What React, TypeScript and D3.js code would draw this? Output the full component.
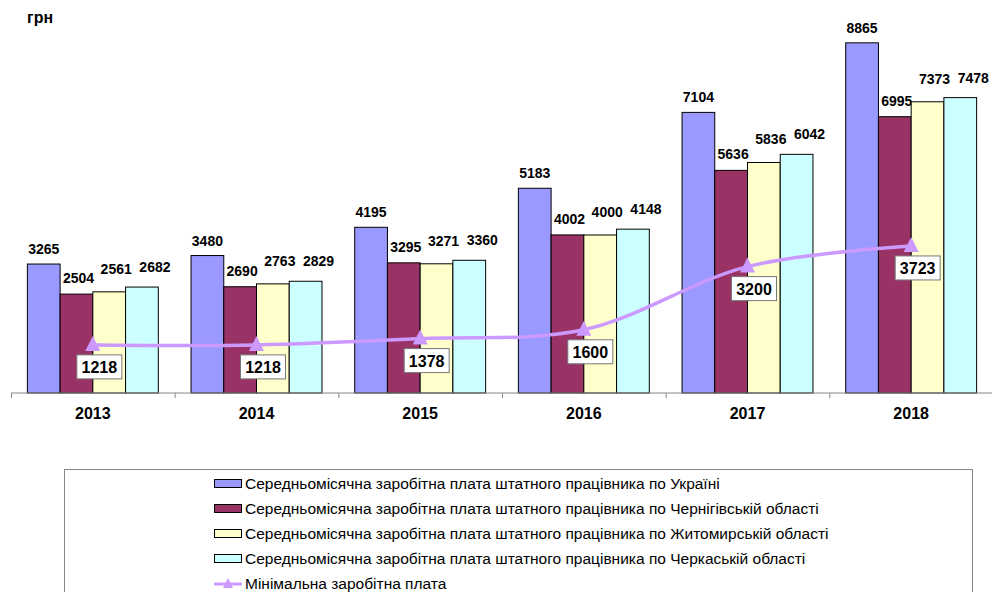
import React from 'react';
import * as d3 from 'd3';

const years = ['2013', '2014', '2015', '2016', '2017', '2018'];
const ukraine = [3265, 3480, 4195, 5183, 7104, 8865];
const chernihiv = [2504, 2690, 3295, 4002, 5636, 6995];
const zhytomyr = [2561, 2763, 3271, 4000, 5836, 7373];
const cherkasy = [2682, 2829, 3360, 4148, 6042, 7478];
const minWage = [1218, 1218, 1378, 1600, 3200, 3723];

const seriesNames = [
  'Середньомісячна заробітна плата штатного працівника по Україні',
  'Середньомісячна заробітна плата штатного працівника по Чернігівській області',
  'Середньомісячна заробітна плата штатного працівника по Житомирській області',
  'Середньомісячна заробітна плата штатного працівника по Черкаській області',
];
const lineName = 'Мінімальна заробітна плата';

const W = 992;
const H = 592;
const font = '"Liberation Sans", Arial, sans-serif';

const series = [
  { key: 'ua', values: ukraine, color: '#9999ff', dx: 0, dy: -10 },
  { key: 'ch', values: chernihiv, color: '#993366', dx: 2, dy: -11 },
  { key: 'zh', values: zhytomyr, color: '#ffffcc', dx: 7, dy: -18 },
  { key: 'ck', values: cherkasy, color: '#ccffff', dx: 13, dy: -15 },
];
const lineColor = '#cc99ff';

const App: React.FC = () => {
  const x = d3.scaleBand<string>().domain(years).range([11, 993]);
  const inner = d3
    .scaleBand<string>()
    .domain(series.map(s => s.key))
    .range([0, x.bandwidth()])
    .paddingInner(0)
    .paddingOuter(0.5);
  const y = d3.scaleLinear().domain([0, 10000]).range([393, -2]);

  const pts: [number, number][] = minWage.map((v, i) => [
    (x(years[i]) as number) + x.bandwidth() / 2,
    y(v),
  ]);
  const line = d3.line().curve(d3.curveCatmullRom.alpha(0.5))(pts) || '';
  const tri = (cx: number, cy: number, s: number) =>
    `M${cx},${cy - s * 0.6}L${cx + s / 2},${cy + s * 0.4}L${cx - s / 2},${cy + s * 0.4}Z`;

  const baseY = y(0);

  return (
    <svg
      width={W}
      height={H}
      style={{ position: 'absolute', left: 0, top: 0, background: '#fff' }}
      fontFamily={font}
    >
      <text x={27} y={23} fontSize={16} fontWeight="bold" fill="#000">грн</text>

      {/* bars */}
      {years.map((yr, i) =>
        series.map(s => {
          const bx = (x(yr) as number) + (inner(s.key) as number);
          const v = s.values[i];
          return (
            <g key={yr + s.key}>
              <rect
                x={bx}
                y={y(v)}
                width={inner.bandwidth()}
                height={baseY - y(v)}
                fill={s.color}
                stroke="#000"
                strokeWidth={1}
              />
              <text
                x={bx + inner.bandwidth() / 2 + s.dx}
                y={y(v) + s.dy}
                textAnchor="middle"
                fontSize={14}
                fontWeight="bold"
                fill="#000"
              >
                {v}
              </text>
            </g>
          );
        })
      )}

      {/* axis */}
      <line x1={11} x2={W} y1={baseY} y2={baseY} stroke="#888" strokeWidth={1} />
      {years.map(yr => (
        <line
          key={'t' + yr}
          x1={(x(yr) as number) + 0.5}
          x2={(x(yr) as number) + 0.5}
          y1={baseY}
          y2={baseY + 5}
          stroke="#888"
        />
      ))}
      {years.map(yr => (
        <text
          key={'l' + yr}
          x={(x(yr) as number) + x.bandwidth() / 2}
          y={419}
          textAnchor="middle"
          fontSize={16}
          fontWeight="bold"
          fill="#000"
        >
          {yr}
        </text>
      ))}

      {/* minimum wage line */}
      <path d={line} fill="none" stroke={lineColor} strokeWidth={3.5} />
      {pts.map(([px, py], i) => (
        <g key={'m' + i}>
          <path d={tri(px, py, 15)} fill={lineColor} />
          <rect
            x={px - 16}
            y={py + 10}
            width={45}
            height={24}
            fill="#fff"
            stroke="#777"
            strokeWidth={1}
          />
          <text
            x={px + 6.5}
            y={py + 28}
            textAnchor="middle"
            fontSize={16}
            fontWeight="bold"
            fill="#000"
          >
            {minWage[i]}
          </text>
        </g>
      ))}

      {/* legend */}
      <rect x={64.5} y={469.5} width={908} height={140} fill="#fff" stroke="#888" strokeWidth={1} />
      {series.map((s, i) => (
        <g key={'lg' + s.key}>
          <rect x={214.5} y={479.5 + i * 25} width={27} height={8} fill={s.color} stroke="#000" />
          <text x={245} y={489 + i * 25} fontSize={15.5} fill="#000">
            {seriesNames[i]}
          </text>
        </g>
      ))}
      <line x1={214} x2={242} y1={584} y2={584} stroke={lineColor} strokeWidth={3} />
      <path d={tri(228, 584, 10)} fill={lineColor} />
      <text x={245} y={589} fontSize={15.5} fill="#000">{lineName}</text>
    </svg>
  );
};

export default App;
